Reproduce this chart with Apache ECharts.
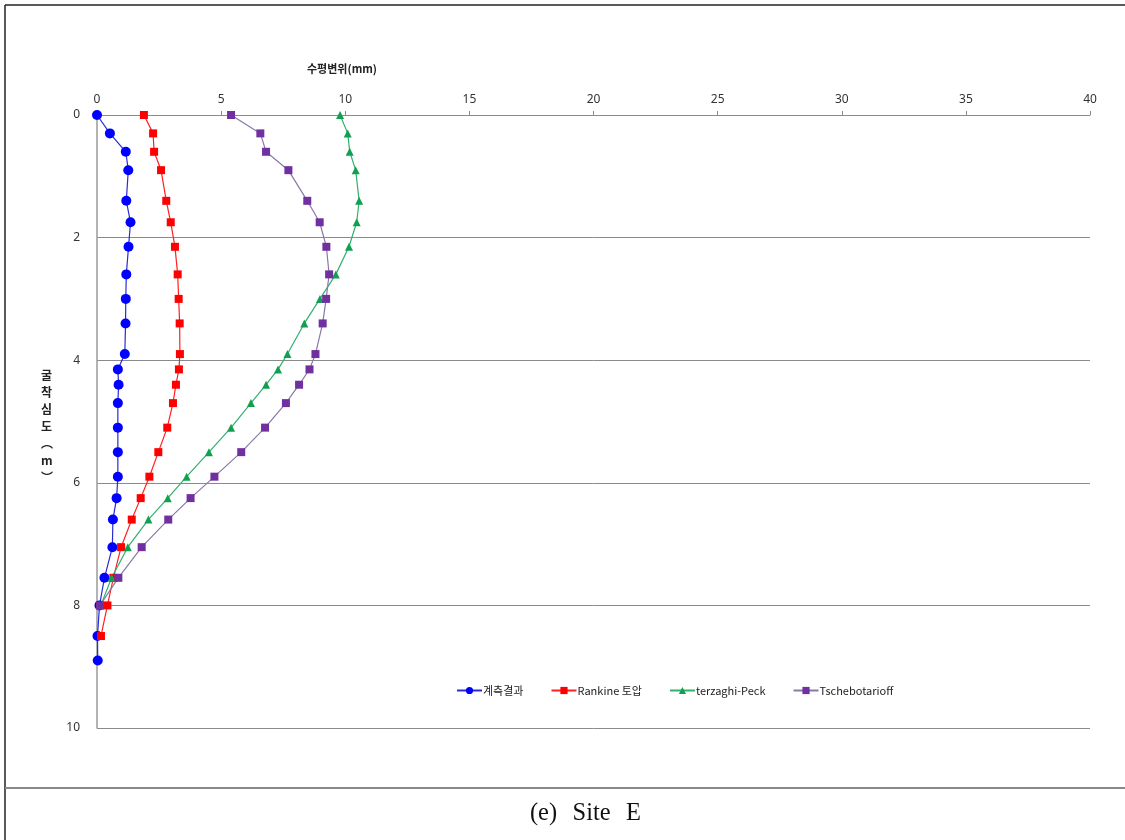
<!DOCTYPE html>
<html>
<head>
<meta charset="utf-8">
<script src="https://cdn.jsdelivr.net/npm/echarts@6/dist/echarts.min.js"></script>
<style>
  html, body { margin: 0; padding: 0; background: #fff; }
  #wrap { position: relative; width: 1125px; height: 840px; overflow: hidden; }
  #chart { position: absolute; left: 0; top: 0; width: 1125px; height: 840px; }
  #caption {
    position: absolute; left: 46px; width: 1079px; top: 797px; text-align: center;
    font-family: "Liberation Serif", "DejaVu Serif", serif; font-size: 26px;
    word-spacing: 10px; color: #111; transform: scaleX(0.94);
  }
</style>
</head>
<body>
<div id="wrap">
  <div id="chart"></div>
  <div id="caption">(e) Site E</div>
</div>
<script>
// Excavation depth (m) at each reading
const depths = [0, 0.3, 0.6, 0.9, 1.4, 1.75, 2.15, 2.6, 3.0, 3.4, 3.9, 4.15, 4.4, 4.7, 5.1, 5.5, 5.9, 6.25, 6.6, 7.05, 7.55, 8.0, 8.5, 8.9];

// Horizontal displacement (mm), listed from the top of the wall downward
const measured = [0, 0.52, 1.16, 1.26, 1.18, 1.35, 1.27, 1.18, 1.16, 1.15, 1.12, 0.84, 0.87, 0.84, 0.84, 0.84, 0.84, 0.79, 0.64, 0.62, 0.3, 0.1, 0.02, 0.03];
const rankine = [1.89, 2.26, 2.3, 2.58, 2.79, 2.97, 3.14, 3.25, 3.29, 3.33, 3.34, 3.3, 3.18, 3.06, 2.83, 2.47, 2.11, 1.76, 1.40, 0.97, 0.66, 0.42, 0.16];
const terzaghiPeck = [9.79, 10.1, 10.18, 10.42, 10.56, 10.46, 10.15, 9.62, 8.98, 8.35, 7.67, 7.29, 6.81, 6.2, 5.4, 4.51, 3.61, 2.85, 2.07, 1.24, 0.59, 0.15];
const tschebotarioff = [5.4, 6.58, 6.81, 7.71, 8.47, 8.97, 9.24, 9.35, 9.23, 9.09, 8.8, 8.56, 8.14, 7.61, 6.77, 5.81, 4.73, 3.77, 2.87, 1.8, 0.86, 0.12];

const seriesNames = ['계측결과', 'Rankine 토압', 'terzaghi-Peck', 'Tschebotarioff'];
const xTitle = '수평변위(mm)';
const yTitle = '굴\n착\n심\n도\n︵\nm\n︶';

function pairs(values) {
  return values.map((v, i) => [v, depths[i]]);
}

function makeSeries(name, values, symbol, size, markerColor, lineColor) {
  return {
    name: name,
    type: 'line',
    data: pairs(values),
    symbol: symbol,
    symbolSize: size,
    showAllSymbol: true,
    itemStyle: { color: markerColor },
    lineStyle: { color: lineColor, width: 1.2 },
    emphasis: { disabled: true },
    animation: false
  };
}

const chart = echarts.init(document.getElementById('chart'), null, { renderer: 'canvas' });

chart.setOption({
  backgroundColor: '#ffffff',
  animation: false,
  grid: { left: 97, right: 35, top: 115, bottom: 112 },
  xAxis: {
    type: 'value',
    position: 'top',
    min: 0, max: 40, interval: 5,
    axisLine: { show: true, lineStyle: { color: '#8a8a8a', width: 1 } },
    axisTick: { show: true, inside: false, length: 4, lineStyle: { color: '#8a8a8a' } },
    axisLabel: { color: '#333', fontSize: 12, fontFamily: 'Noto Sans, sans-serif', margin: 9 },
    splitLine: { show: false }
  },
  yAxis: {
    type: 'value',
    inverse: true,
    min: 0, max: 10, interval: 2,
    axisLine: { show: true, lineStyle: { color: '#9a9a9a', width: 1.5 } },
    axisTick: { show: false },
    axisLabel: { color: '#333', fontSize: 12, fontFamily: 'Noto Sans, sans-serif', margin: 17 },
    splitLine: { show: true, lineStyle: { color: '#8a8a8a', width: 1 } }
  },
  legend: {
    left: 451, top: 680,
    itemWidth: 25, itemHeight: 9, itemGap: 27,
    textStyle: { color: '#222', fontSize: 11, fontFamily: '"Noto Sans CJK KR", sans-serif', padding: [0, 0, 0, -4] },
    data: seriesNames
  },
  graphic: [
    // frame around the figure
    { type: 'line', shape: { x1: 5, y1: 5, x2: 1125, y2: 5 }, style: { stroke: '#222', lineWidth: 1.5 } },
    { type: 'line', shape: { x1: 5, y1: 5, x2: 5, y2: 840 }, style: { stroke: '#222', lineWidth: 1.5 } },
    { type: 'line', shape: { x1: 5, y1: 788, x2: 1125, y2: 788 }, style: { stroke: '#888', lineWidth: 2 } },
    // axis titles
    {
      type: 'text', left: 307, top: 63,
      style: { text: xTitle, fill: '#222', font: 'bold 11px "Noto Sans CJK KR", sans-serif' }
    },
    {
      type: 'text', left: 41, top: 367,
      style: { text: yTitle, fill: '#222', font: 'bold 12px "Noto Sans CJK KR", sans-serif', lineHeight: 17, align: 'center' }
    }
  ],
  series: [
    makeSeries(seriesNames[0], measured, 'circle', 10, '#0000ff', '#2a2ad8'),
    makeSeries(seriesNames[1], rankine, 'rect', 8, '#ff0000', '#ff2020'),
    makeSeries(seriesNames[2], terzaghiPeck, 'triangle', 8, '#10a050', '#30b070'),
    makeSeries(seriesNames[3], tschebotarioff, 'rect', 8, '#7030a0', '#8a78a8')
  ]
});
</script>
</body>
</html>
